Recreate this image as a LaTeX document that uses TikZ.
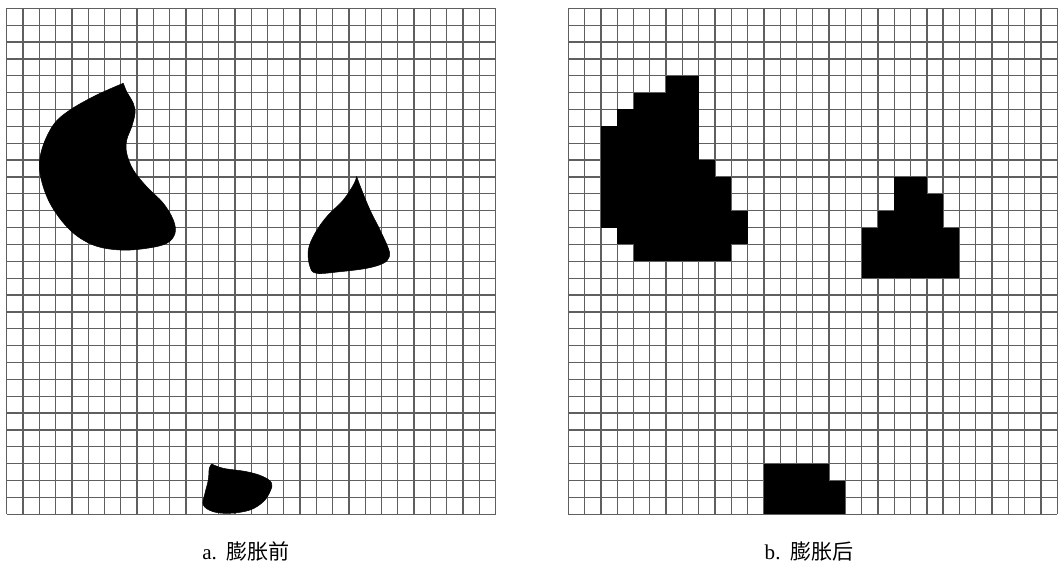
\documentclass[tikz,border=0pt]{standalone}
\usepackage{fontspec}
\setmainfont{Liberation Serif}
\newfontfamily\cjk{Noto Sans CJK SC}
\usepackage{xcolor}
\usepackage{tikz}
\usetikzlibrary{calc}
\definecolor{gridcol}{RGB}{95,95,95}

\begin{document}
\begin{tikzpicture}[
  x=0.02cm, y=-0.02cm,
  gridline/.style = {draw=gridcol, line width=0.75pt},
  blob/.style     = {fill=black, draw=black, line width=0.3pt},
  cell/.style     = {fill=black},
  caption/.style  = {font=\fontsize{12}{14}\selectfont, inner sep=0pt, anchor=base},
]
\useasboundingbox (0,0) rectangle (1060,564);
% Left panel: before dilation
\begin{scope}[shift={(6.7,8.3)}, x=0.326cm, y=-0.3374cm]
  \foreach \i in {0,...,30} {
    \draw[gridline] (\i,0) -- (\i,30);
    \draw[gridline] (0,\i) -- (30,\i);
  }
\end{scope}
\fill[blob] plot[smooth, tension=0.6] coordinates {
  (123.3,83.3) (126.7,91.7) (133.3,103.3) (135,113.3) (131.7,126.7)
  (126.7,140) (126.7,153.3) (133.3,170) (146.7,186.7) (163.3,203.3)
  (173.3,220) (175,233.3) (166.7,243.3) (146.7,248.3) (120,250)
  (93.3,245) (70,230) (50,203.3) (40,173.3) (41.7,150) (53.3,125)
  (70,110) (96.7,95) (123.3,83.3)} -- cycle;
\fill[blob] plot[smooth, tension=0.6] coordinates {
  (356.7,176.7) (361.7,190) (370,210) (380,230) (388.3,248.3)
  (389.3,256.7) (383.3,263.3) (366.7,268.3) (340,271.7) (316.7,273.3)
  (310,266.7) (308.3,250) (315,233.3) (326.7,216.7) (343.3,200)
  (353.3,185) (356.7,176.7)} -- cycle;
\fill[blob] plot[smooth, tension=0.6] coordinates {
  (211.7,464) (223.3,468.3) (246.7,471.7) (263.3,476.7) (271.7,483.3)
  (270,491.7) (263.3,501.7) (250,510) (230,513.3) (213.3,511.7)
  (203.3,505) (205,493.3) (208.3,480) (209.3,468.3) (211.7,464)} -- cycle;
% Right panel: after dilation
\begin{scope}[shift={(568.3,8.3)}, x=0.326cm, y=-0.3374cm]
  \foreach \i in {0,...,30} {
    \draw[gridline] (\i,0) -- (\i,30);
    \draw[gridline] (0,\i) -- (30,\i);
  }
  \foreach \r/\a/\b in {4/6/7, 5/4/7, 6/3/7, 7/2/7, 8/2/7, 9/2/8, 10/2/9,
                        11/2/9, 12/2/10, 13/3/10, 14/4/9,
                        10/20/21, 11/20/22, 12/19/22, 13/18/23, 14/18/23, 15/18/23,
                        27/12/15, 28/12/16, 29/12/16}
    \fill[cell] (\a,\r) rectangle (\b+1,\r+1);
\end{scope}
% Captions
\node[caption] (capA) at (246,559) {a.\hspace{0.45em}{\cjk 膨胀前}};
\node[caption] (capB) at (809,559) {b.\hspace{0.45em}{\cjk 膨胀后}};
\end{tikzpicture}
\end{document}
